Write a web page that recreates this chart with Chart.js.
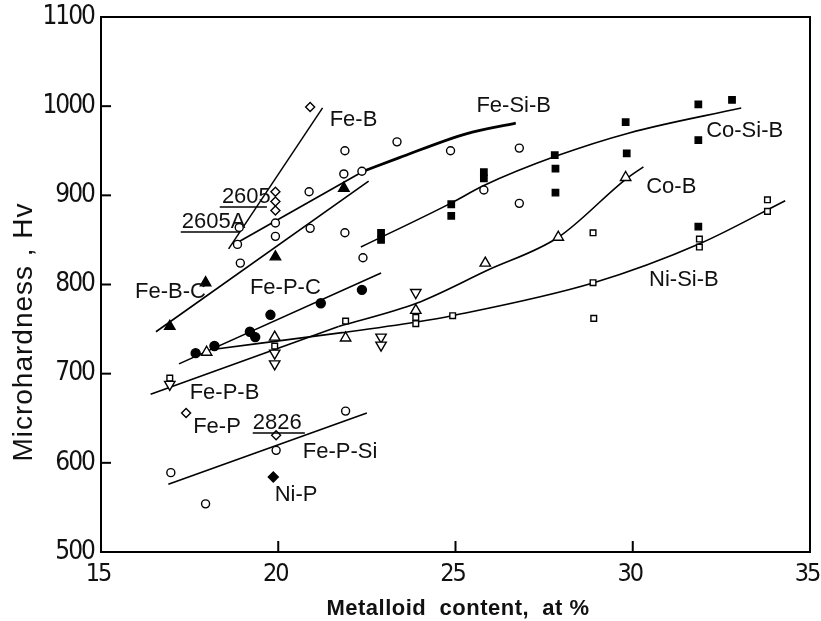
<!DOCTYPE html>
<html>
<head>
<meta charset="utf-8">
<script src="https://cdn.jsdelivr.net/npm/chart.js@4.4.1/dist/chart.umd.min.js"></script>
<style>
  html, body { margin: 0; padding: 0; background: #fff; }
</style>
</head>
<body>
<canvas id="hardnessChart" width="821" height="621"></canvas>
<script>
// axis ticks
const xTicks = [15, 20, 25, 30, 35];
const yTicks = [500, 600, 700, 800, 900, 1000, 1100];

// measured points: metalloid content (at%) / microhardness (Hv)
const feSiBX = [18.9, 18.85, 18.93, 19.92, 19.92, 20.87, 20.9, 21.88, 21.85, 21.88, 22.36, 22.39, 23.35, 24.86, 25.8, 26.8, 26.8];
const feSiBY = [864, 845, 824, 869, 854, 904, 863, 950, 924, 858, 927, 830, 960, 950, 906, 953, 891];

const feBX = [20.9, 19.92, 19.92, 19.92];
const feBY = [999, 904, 893, 883];

const feBCX = [16.94, 17.95, 19.92, 21.85];
const feBCY = [753, 802, 831, 908];

const fePCX = [17.67, 18.2, 19.2, 19.35, 19.78, 21.2, 22.36];
const fePCY = [723, 731, 747, 741, 766, 779, 794];

const coBX = [17.98, 19.9, 21.9, 23.88, 25.84, 27.9, 29.8];
const coBY = [724, 741, 740, 771, 824, 853, 920];

const fePBX = [16.94, 19.9, 19.9, 22.9, 22.9, 23.88];
const fePBY = [688, 723, 711, 741, 732, 791];

const niSiBX = [16.94, 19.9, 21.9, 23.88, 23.88, 24.92, 28.88, 28.88, 28.9, 31.88, 31.88, 33.8, 33.8];
const niSiBY = [695, 731, 759, 763, 756, 765, 858, 802, 762, 851, 842, 895, 882];

const coSiBX = [22.9, 22.9, 24.88, 24.88, 25.8, 25.8, 27.8, 27.82, 27.82, 29.8, 29.83, 31.85, 31.85, 31.85, 32.8];
const coSiBY = [858, 850, 890, 877, 926, 919, 945, 930, 903, 982, 947, 1002, 962, 865, 1007];

const fePSiX = [16.97, 17.95, 19.94, 21.9];
const fePSiY = [589, 554, 614, 658];

const fePX = [17.4, 19.94];
const fePY = [656, 631];

const niPX = [19.86];
const niPY = [584];

// fitted curves
const feBFitX = [18.6, 21.25];
const feBFitY = [840, 998];
const feSiBFitX = [18.8, 22.4];
const feSiBFitY = [846, 927];
const feSiBFit2X = [22.4, 23.4, 25.3, 26.7];
const feSiBFit2Y = [927, 942, 969, 981];
const feBCFitX = [16.55, 22.55];
const feBCFitY = [747, 916];
const fePCFitX = [17.2, 22.9];
const fePCFitY = [711, 813];
const fePBFitX = [16.4, 21.7];
const fePBFitY = [677, 753];
const coBFitX = [21.7, 23.9, 25.9, 27.9, 29.8, 30.3];
const coBFitY = [753, 779, 816, 853, 918, 932];
const niSiBFitX = [18.3, 21.8, 23.9, 24.9, 28.9, 31.9, 34.3];
const niSiBFitY = [728, 746, 758, 765, 802, 846, 894];
const coSiBFitX = [22.33, 24.86, 25.8, 27.84, 29.9, 33.06];
const coSiBFitY = [842, 891, 911, 944, 970, 998];
const fePSiFitX = [16.9, 22.5];
const fePSiFitY = [576, 656];

// alloy names written inside the plot (left edge, middle)
const labelText = ["Fe-B", "Fe-Si-B", "Co-Si-B", "Co-B", "Ni-Si-B", "2605", "2605A", "Fe-B-C", "Fe-P-C", "Fe-P-B", "Fe-P", "2826", "Fe-P-Si", "Ni-P"];
const labelX = [21.45, 25.59, 32.07, 30.38, 30.46, 18.41, 17.28, 15.96, 19.2, 17.5, 17.6, 19.28, 20.69, 19.9];
const labelY = [984, 1000, 972, 909, 805, 898, 870, 792, 796, 678, 640, 645, 612, 564];

// underlines of the commercial alloy numbers
const underX1 = [18.35, 17.25, 19.28];
const underX2 = [19.68, 18.92, 20.75];
const underY = [887, 859, 633.5];

function pts(xs, ys) {
  return xs.map((x, i) => ({ x: x, y: ys[i] }));
}

function marks(xs, ys, style, filled, radius, rotation) {
  return {
    data: pts(xs, ys),
    pointStyle: style,
    pointRadius: radius,
    pointRotation: rotation || 0,
    pointBackgroundColor: filled ? "#000" : "#fff",
    pointBorderColor: "#000",
    pointBorderWidth: 1.4,
    showLine: false,
  };
}

function fit(xs, ys, width, curved) {
  return {
    data: pts(xs, ys),
    showLine: true,
    borderColor: "#000",
    borderWidth: width,
    pointRadius: 0,
    cubicInterpolationMode: curved ? "monotone" : "default",
    tension: curved ? 0.4 : 0,
    fill: false,
  };
}

const tickFont = "'DejaVu Sans Condensed', 'Liberation Sans Narrow', sans-serif";

const frameAndText = {
  id: "frameAndText",
  // tighter digits for the tick numbers
  beforeDraw(chart) {
    chart.ctx.letterSpacing = "-2px";
  },
  beforeDatasetsDraw(chart) {
    chart.ctx.letterSpacing = "0px";
  },
  afterDraw(chart) {
    const ctx = chart.ctx;
    const a = chart.chartArea;
    const xs = chart.scales.x;
    const ys = chart.scales.y;
    ctx.save();
    ctx.strokeStyle = "#000";
    ctx.lineWidth = 2;
    ctx.strokeRect(a.left, a.top, a.right - a.left, a.bottom - a.top);

    // inward tick marks
    xTicks.slice(1, -1).forEach((v) => {
      const px = xs.getPixelForValue(v);
      ctx.beginPath();
      ctx.moveTo(px, a.bottom);
      ctx.lineTo(px, a.bottom - 11);
      ctx.stroke();
    });
    yTicks.slice(1, -1).forEach((v) => {
      const py = ys.getPixelForValue(v);
      ctx.beginPath();
      ctx.moveTo(a.left, py);
      ctx.lineTo(a.left + 10, py);
      ctx.stroke();
    });

    // labels
    ctx.fillStyle = "#111";
    ctx.font = "22px 'Liberation Sans', Arial, sans-serif";
    ctx.textAlign = "left";
    ctx.textBaseline = "middle";
    labelText.forEach((t, i) => {
      ctx.fillText(t, xs.getPixelForValue(labelX[i]), ys.getPixelForValue(labelY[i]));
    });
    ctx.lineWidth = 1.5;
    underY.forEach((v, i) => {
      const py = ys.getPixelForValue(v);
      ctx.beginPath();
      ctx.moveTo(xs.getPixelForValue(underX1[i]), py);
      ctx.lineTo(xs.getPixelForValue(underX2[i]), py);
      ctx.stroke();
    });

    // axis titles
    ctx.font = "28px 'Liberation Sans', Arial, sans-serif";
    ctx.letterSpacing = "1px";
    ctx.textAlign = "center";
    ctx.save();
    ctx.translate(24, 332);
    ctx.rotate(-Math.PI / 2);
    ctx.fillText("Microhardness , Hv", 0, 0);
    ctx.restore();

    ctx.font = "bold 22px 'Liberation Sans', Arial, sans-serif";
    ctx.letterSpacing = "0.5px";
    ctx.fillText("Metalloid  content,  at %", 458, 609);
    ctx.restore();
  },
};

new Chart(document.getElementById("hardnessChart"), {
  type: "scatter",
  data: {
    datasets: [
      marks(feSiBX, feSiBY, "circle", false, 4),
      marks(feBX, feBY, "rectRot", false, 4.5),
      marks(feBCX, feBCY, "triangle", true, 6),
      marks(fePCX, fePCY, "circle", true, 4.5),
      marks(coBX, coBY, "triangle", false, 6),
      marks(fePBX, fePBY, "triangle", false, 6, 180),
      marks(niSiBX, niSiBY, "rect", false, 4),
      marks(coSiBX, coSiBY, "rect", true, 4.5),
      marks(fePSiX, fePSiY, "circle", false, 4),
      marks(fePX, fePY, "rectRot", false, 4.5),
      marks(niPX, niPY, "rectRot", true, 5),
      fit(feBFitX, feBFitY, 1.5, false),
      fit(feSiBFitX, feSiBFitY, 1.6, false),
      fit(feSiBFit2X, feSiBFit2Y, 2.8, true),
      fit(feBCFitX, feBCFitY, 1.6, false),
      fit(fePCFitX, fePCFitY, 1.6, false),
      fit(fePBFitX, fePBFitY, 1.6, false),
      fit(coBFitX, coBFitY, 1.6, true),
      fit(niSiBFitX, niSiBFitY, 1.6, true),
      fit(coSiBFitX, coSiBFitY, 1.6, true),
      fit(fePSiFitX, fePSiFitY, 1.6, false),
    ],
  },
  options: {
    responsive: false,
    animation: false,
    devicePixelRatio: 1,
    layout: { padding: { top: 17, right: 11, left: 0, bottom: 0 } },
    plugins: { legend: { display: false }, tooltip: { enabled: false } },
    scales: {
      x: {
        type: "linear",
        min: 15,
        max: 35,
        afterBuildTicks: (scale) => { scale.ticks = xTicks.map((v) => ({ value: v })); },
        afterFit: (scale) => { scale.height = 69; scale.paddingLeft = 0; scale.paddingRight = 0; },
        grid: { display: false, drawTicks: false },
        border: { display: false },
        ticks: {
          padding: 7,
          labelOffset: -3,
          color: "#111",
          callback: (v) => String(v),
          font: { family: tickFont, size: 25 },
        },
      },
      y: {
        type: "linear",
        min: 500,
        max: 1100,
        afterBuildTicks: (scale) => { scale.ticks = yTicks.map((v) => ({ value: v })); },
        afterFit: (scale) => { scale.width = 101; scale.paddingTop = 0; scale.paddingBottom = 0; },
        grid: { display: false, drawTicks: false },
        border: { display: false },
        ticks: {
          padding: 7,
          color: "#111",
          callback: (v) => String(v),
          font: { family: tickFont, size: 26 },
        },
      },
    },
  },
  plugins: [frameAndText],
});
</script>
</body>
</html>
